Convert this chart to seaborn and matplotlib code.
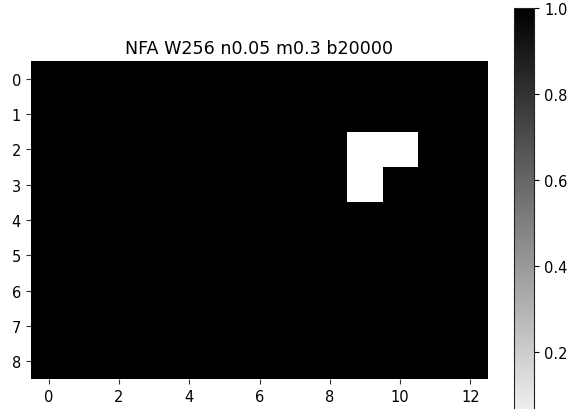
import numpy as np
import matplotlib
matplotlib.use("Agg")
import matplotlib.pyplot as plt
import seaborn as sns

title = "NFA W256 n0.05 m0.3 b20000"
row_labels = [str(i) for i in range(9)]
col_labels = [str(i) for i in range(13)]
grid = [
    [1, 1, 1, 1, 1, 1, 1, 1, 1, 1, 1, 1, 1],
    [1, 1, 1, 1, 1, 1, 1, 1, 1, 1, 1, 1, 1],
    [1, 1, 1, 1, 1, 1, 1, 1, 1, 0, 0, 1, 1],
    [1, 1, 1, 1, 1, 1, 1, 1, 1, 0, 1, 1, 1],
    [1, 1, 1, 1, 1, 1, 1, 1, 1, 1, 1, 1, 1],
    [1, 1, 1, 1, 1, 1, 1, 1, 1, 1, 1, 1, 1],
    [1, 1, 1, 1, 1, 1, 1, 1, 1, 1, 1, 1, 1],
    [1, 1, 1, 1, 1, 1, 1, 1, 1, 1, 1, 1, 1],
    [1, 1, 1, 1, 1, 1, 1, 1, 1, 1, 1, 1, 1],
]
cbar_ticks = [0.2, 0.4, 0.6, 0.8, 1.0]

data = np.array(grid, dtype=float)
W, H = 575, 410
fig = plt.figure(figsize=(W / 100, H / 100), dpi=100)
ax = fig.add_axes([31 / W, 1 - 380 / H, 457 / W, 318 / H])
cax = fig.add_axes([514 / W, 1 - 439 / H, 20 / W, 430 / H])

sns.heatmap(data, cmap="gray_r", vmin=0, vmax=1, ax=ax, cbar_ax=cax,
            xticklabels=False, yticklabels=False)

xt = list(range(0, 13, 2))
ax.set_xticks([i + 0.5 for i in xt])
ax.set_xticklabels([col_labels[i] for i in xt], rotation=0, fontsize=10.5)
ax.set_yticks([i + 0.5 for i in range(len(row_labels))])
ax.set_yticklabels(row_labels, rotation=0, fontsize=10.5)
ax.tick_params(length=3.7, width=0.8, color="#333333")
ax.set_title(title, fontsize=12.6, pad=6)

cax.set_yticks(cbar_ticks)
cax.set_yticklabels([f"{t:.1f}" for t in cbar_ticks], fontsize=10.5)
cax.tick_params(length=3.7, width=0.8)
cb = ax.collections[0].colorbar
cb.outline.set_visible(True)
cb.outline.set_linewidth(0.8)
cb.outline.set_edgecolor("#222222")

fig.savefig("out.png", dpi=100)
